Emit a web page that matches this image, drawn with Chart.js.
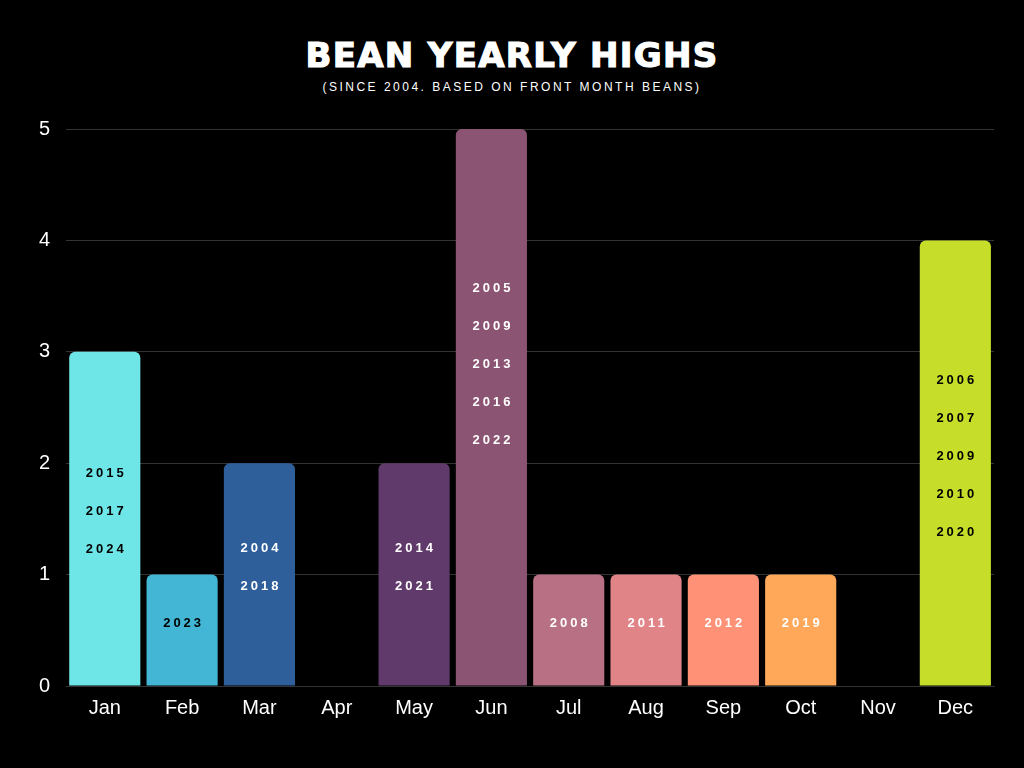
<!DOCTYPE html>
<html>
<head>
<meta charset="utf-8">
<script src="https://cdn.jsdelivr.net/npm/chart.js@4/dist/chart.umd.min.js"></script>
<style>
  html, body { margin: 0; padding: 0; background: #000; }
  #wrap { position: relative; width: 1024px; height: 768px; }
  #title { position: absolute; top: 35px; left: 0; width: 1024px; text-align: center;
    color: #fff; font: bold 34px "DejaVu Sans", sans-serif; letter-spacing: 1.3px;
    -webkit-text-stroke: 1.2px #fff; }
  #sub { position: absolute; top: 80px; left: 0; width: 1024px; text-align: center;
    color: #fff; font: 12px "Liberation Sans", sans-serif; letter-spacing: 2.5px; }
  canvas { position: absolute; top: 0; left: 0; }
</style>
</head>
<body>
<div id="wrap">
  <div id="title">BEAN YEARLY HIGHS</div>
  <div id="sub">(SINCE 2004. BASED ON FRONT MONTH BEANS)</div>
  <canvas id="chart" width="1024" height="768"></canvas>
</div>
<script>
const months = ["Jan", "Feb", "Mar", "Apr", "May", "Jun", "Jul", "Aug", "Sep", "Oct", "Nov", "Dec"];
const highCounts = [3, 1, 2, 0, 2, 5, 1, 1, 1, 1, 0, 4];
const highYears = [
  ["2015", "2017", "2024"],
  ["2023"],
  ["2004", "2018"],
  [],
  ["2014", "2021"],
  ["2005", "2009", "2013", "2016", "2022"],
  ["2008"],
  ["2011"],
  ["2012"],
  ["2019"],
  [],
  ["2006", "2007", "2009", "2010", "2020"]
];
const yTicks = [0, 1, 2, 3, 4, 5];

const barColors = ["#6ee6e8", "#42b6d4", "#2f5f9a", "#000000", "#603a6a", "#8b5472",
  "#b87085", "#e08488", "#ff9177", "#ffa85a", "#000000", "#c6de2a"];
const textColors = ["#000", "#000", "#fff", "#fff", "#fff", "#fff",
  "#fff", "#fff", "#fff", "#fff", "#fff", "#000"];

const yearLabels = {
  id: "yearLabels",
  afterDatasetsDraw(chart) {
    const ctx = chart.ctx;
    const meta = chart.getDatasetMeta(0);
    ctx.save();
    ctx.font = "bold 13px 'Liberation Sans', sans-serif";
    ctx.letterSpacing = "3px";
    ctx.textAlign = "center";
    ctx.textBaseline = "middle";
    meta.data.forEach((bar, i) => {
      const years = highYears[i];
      if (!years.length) return;
      const lineH = 38;
      const mid = (bar.y + bar.base) / 2 - (i === 5 ? 43 : 7);
      const start = mid - (years.length - 1) * lineH / 2;
      ctx.fillStyle = textColors[i];
      years.forEach((y, k) => {
        ctx.fillText(y, bar.x + 1.5, start + k * lineH);
      });
    });
    ctx.restore();
  }
};

new Chart(document.getElementById("chart"), {
  type: "bar",
  data: {
    labels: months,
    datasets: [{
      data: highCounts,
      backgroundColor: barColors,
      borderRadius: 6,
      borderSkipped: "start",
      barPercentage: 0.92,
      categoryPercentage: 1
    }]
  },
  options: {
    responsive: false,
    animation: false,
    layout: { padding: { top: 129, left: 23, right: 30, bottom: 46 } },
    plugins: { legend: { display: false }, tooltip: { enabled: false } },
    scales: {
      x: {
        grid: { display: false },
        border: { display: true, color: "#333" },
        ticks: { color: "#fff", font: { size: 20, family: "'Liberation Sans', sans-serif" }, padding: 2 }
      },
      y: {
        min: 0,
        max: 5,
        afterBuildTicks(axis) { axis.ticks = yTicks.map(v => ({ value: v })); },
        grid: { color: "#333", drawTicks: false },
        border: { display: false },
        ticks: { color: "#fff", font: { size: 20, family: "'Liberation Sans', sans-serif" }, padding: 16 }
      }
    }
  },
  plugins: [yearLabels]
});
</script>
</body>
</html>
